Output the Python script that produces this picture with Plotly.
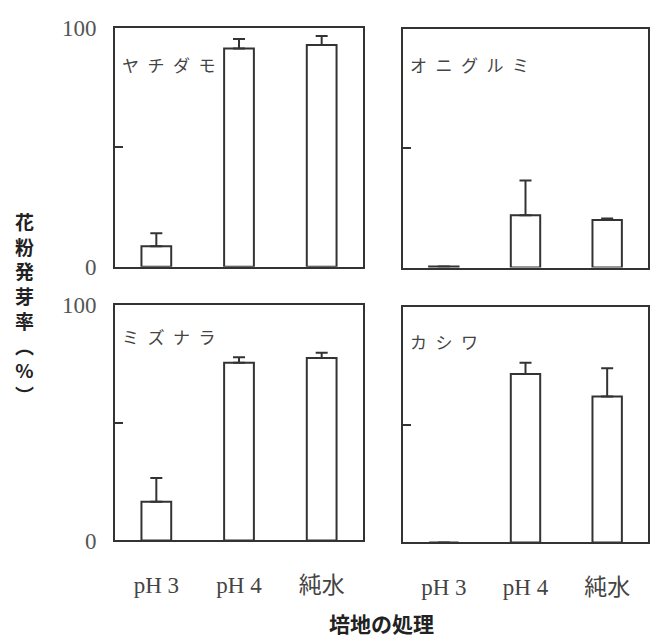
import plotly.graph_objects as go

categories = ["pH 3", "pH 4", "純水"]
species = ["ヤチダモ", "オニグルミ", "ミズナラ", "カシワ"]
means = {
    "ヤチダモ": [8.5, 91.5, 93.0],
    "オニグルミ": [0.5, 22.0, 20.0],
    "ミズナラ": [16.5, 75.5, 77.5],
    "カシワ": [0.0, 71.5, 62.0],
}
errors = {
    "ヤチダモ": [5.5, 4.0, 3.8],
    "オニグルミ": [0.0, 14.5, 0.6],
    "ミズナラ": [10.0, 2.3, 2.2],
    "カシワ": [0.0, 4.8, 12.0],
}
y_ticks = [0, 50, 100]
y_title = "花粉発芽率（%）"
x_title = "培地の処理"

W, H = 653, 639
LINE = "#333333"
SERIF = "Liberation Serif, Noto Sans CJK JP"
JP = "Noto Sans CJK JP"

# panel frames in pixels: (left, right, top, bottom)
panels = [
    (115, 363, 17, 265),
    (403, 648, 18, 266),
    (115, 363, 305, 550),
    (403, 648, 307, 552),
]

fig = go.Figure()
layout = dict(
    width=W, height=H, margin=dict(l=0, r=0, t=0, b=0),
    paper_bgcolor="white", plot_bgcolor="white", showlegend=False,
)

for i, (sp, (l, r, t, b)) in enumerate(zip(species, panels)):
    n = i + 1
    xa = "x" if n == 1 else f"x{n}"
    ya = "y" if n == 1 else f"y{n}"
    fig.add_trace(go.Bar(
        x=categories, y=means[sp], xaxis=xa, yaxis=ya,
        marker=dict(color="white", line=dict(color=LINE, width=2)),
        error_y=dict(type="data", array=errors[sp], arrayminus=[0, 0, 0],
                     symmetric=False, color=LINE, thickness=2, width=6),
        width=0.36,
    ))
    left_col = i in (0, 2)
    bottom_row = i in (2, 3)
    layout[f"xaxis{'' if n == 1 else n}"] = dict(
        domain=[l / W, r / W], anchor=ya, type="category",
        range=[-0.5, 2.5], showline=True, mirror=True, linecolor=LINE, linewidth=2,
        showgrid=False, zeroline=False, ticks="",
        showticklabels=bottom_row, ticklabelstandoff=23,
        tickfont=dict(family=SERIF, size=23, color="#444444"),
    )
    layout[f"yaxis{'' if n == 1 else n}"] = dict(
        domain=[1 - b / H, 1 - t / H], anchor=xa, range=[0, 100],
        showline=True, mirror=True, linecolor=LINE, linewidth=2,
        showgrid=False, zeroline=False, ticks="inside", ticklen=8, tickwidth=2,
        tickcolor=LINE, tickvals=y_ticks,
        ticktext=["0", "", "100"], showticklabels=left_col, ticklabelstandoff=12,
        tickfont=dict(family=SERIF, size=23, color="#555555"),
    )

fig.update_layout(**layout)

label_pos = [(120, 55), (408, 55), (120, 338), (408, 343)]
for sp, (px, py) in zip(species, label_pos):
    fig.add_annotation(
        text="\u2002".join(sp), x=px / W, y=1 - py / H, xref="paper", yref="paper",
        xanchor="left", yanchor="middle", showarrow=False,
        font=dict(family=JP, size=17, color="#444444"),
    )

vert = "<br>".join(["花", "粉", "発", "芽", "率", "︵", "%", "︶"])
fig.add_annotation(
    text=vert, x=25 / W, y=1 - 308 / H, xref="paper", yref="paper",
    xanchor="center", yanchor="middle", showarrow=False,
    font=dict(family=JP, size=19, color="#222222", weight="bold"),
)
fig.add_annotation(
    text=x_title, x=381 / W, y=1 - 636 / H, xref="paper", yref="paper",
    xanchor="center", yanchor="middle", showarrow=False,
    font=dict(family=JP, size=21, color="#222222", weight="bold"),
)

fig.write_html("out.html")
